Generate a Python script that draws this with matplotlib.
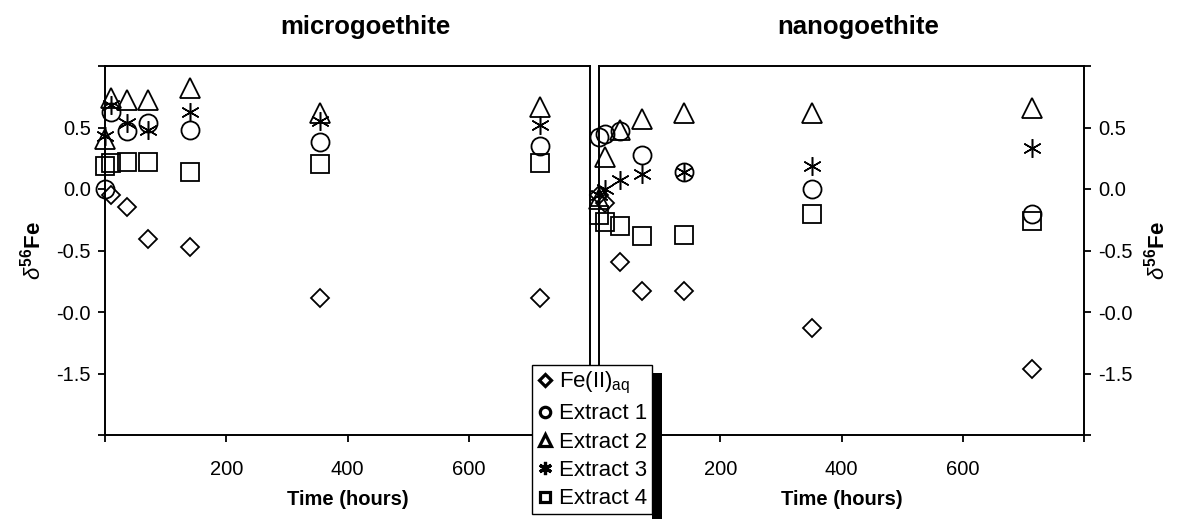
import matplotlib
matplotlib.use("Agg")
import matplotlib.pyplot as plt
from matplotlib.lines import Line2D
from matplotlib.patches import Rectangle
import numpy as np

plt.rcParams['font.family'] = ['Liberation Sans', 'DejaVu Sans']
plt.rcParams['mathtext.fontset'] = 'custom'
plt.rcParams['mathtext.rm'] = 'Liberation Sans'
plt.rcParams['mathtext.it'] = 'Liberation Sans:italic'
plt.rcParams['mathtext.bf'] = 'Liberation Sans:bold'

# ---- data: microgoethite ----
micro_time = [0, 10, 36, 71, 141, 354, 717]
micro_fe = [np.nan, -0.05, -0.15, -0.41, -0.47, -0.89, -0.89]
micro_ext1 = [0.0, 0.63, 0.47, 0.54, 0.48, 0.38, 0.35]
micro_ext2 = [0.41, 0.74, 0.72, 0.72, 0.82, 0.62, 0.67]
micro_ext3 = [0.43, 0.68, 0.54, 0.48, 0.63, 0.55, 0.52]
micro_ext4 = [0.19, 0.21, 0.22, 0.22, 0.14, 0.20, 0.21]

# ---- data: nanogoethite ----
nano_time = [0, 10, 35, 71, 141, 352, 715]
nano_fe = [-0.05, -0.11, -0.59, -0.83, -0.83, -1.13, -1.46]
nano_ext1 = [0.42, 0.45, 0.47, 0.28, 0.14, 0.0, -0.20]
nano_ext2 = [-0.08, 0.26, 0.48, 0.57, 0.62, 0.62, 0.66]
nano_ext3 = [-0.05, 0.0, 0.07, 0.12, 0.14, 0.19, 0.33]
nano_ext4 = [-0.21, -0.27, -0.30, -0.38, -0.37, -0.20, -0.26]

series_labels = [r'Fe(II)$_{\mathrm{aq}}$', 'Extract 1', 'Extract 2', 'Extract 3', 'Extract 4']
x_ticks = [0, 200, 400, 600, 800]
x_ticklabels = ['', '200', '400', '600', '']
y_ticks = [1.0, 0.5, 0.0, -0.5, -1.0, -1.5, -2.0]
y_ticklabels = ['', '0.5', '0.0', '-0.5', '-0.0', '-1.5', '']
titles = ['microgoethite', 'nanogoethite']

markers = ['D', 'o', '^', (6, 2, 0), 's']
msizes = [9, 13, 14, 13.5, 12.5]
mews = [1.3, 1.3, 1.3, 1.1, 1.3]

W, H = 1179, 519
fig = plt.figure(figsize=(W / 100, H / 100), dpi=100)

ax_l = fig.add_axes([105 / W, (H - 435) / H, 485 / W, 369 / H])
ax_r = fig.add_axes([599 / W, (H - 435) / H, 485 / W, 369 / H])

def draw(ax, t, ys):
    for y, m, ms, mew in zip(ys, markers, msizes, mews):
        ax.plot(t, y, linestyle='none', marker=m, markersize=ms,
                markerfacecolor='none', markeredgecolor='black',
                markeredgewidth=mew, color='black', clip_on=False)
    ax.set_xlim(0, 800)
    ax.set_ylim(-2.0, 1.0)
    ax.set_xticks(x_ticks)
    ax.set_xticklabels(x_ticklabels)
    ax.set_yticks(y_ticks)
    ax.set_yticklabels(y_ticklabels)
    for s in ax.spines.values():
        s.set_linewidth(1.4)
    ax.tick_params(direction='out', length=5, width=1.3, labelsize=14.5)
    ax.tick_params(axis='x', pad=13)
    ax.tick_params(axis='y', pad=5)
    ax.set_xlabel('Time (hours)', fontsize=14.5, fontweight='bold', labelpad=8)

draw(ax_l, micro_time, [micro_fe, micro_ext1, micro_ext2, micro_ext3, micro_ext4])
draw(ax_r, nano_time, [nano_fe, nano_ext1, nano_ext2, nano_ext3, nano_ext4])

ylab = r'$\delta^{\mathbf{56}}\mathbf{Fe}$'
ax_l.set_ylabel(ylab, fontsize=16, labelpad=8)
ax_r.yaxis.tick_right()
ax_r.yaxis.set_label_position('right')
ax_r.set_ylabel(ylab, fontsize=16, labelpad=8)

fig.text(365 / W, 1 - 27 / H, titles[0], ha='center', va='center',
         fontsize=18.5, fontweight='bold')
fig.text(858 / W, 1 - 27 / H, titles[1], ha='center', va='center',
         fontsize=18.5, fontweight='bold')

# legend
handles = []
leg_ms = [6.5, 7.5, 8, 9.5, 7.5]
for m, ms in zip(markers, leg_ms):
    handles.append(Line2D([], [], linestyle='none', marker=m, markersize=ms,
                          markerfacecolor='none', markeredgecolor='black',
                          markeredgewidth=2.3))
leg = fig.legend(handles, series_labels, loc='upper left',
                 bbox_to_anchor=(532 / W, 1 - 365 / H),
                 bbox_transform=fig.transFigure, borderaxespad=0,
                 frameon=True, fancybox=False, framealpha=1,
                 edgecolor='black', fontsize=16, handlelength=0.7,
                 handletextpad=0.3, labelspacing=0.33, borderpad=0.22)
leg.get_frame().set_linewidth(1.0)
leg.set_zorder(10)

# legend shadow (placed from the rendered legend box)
fig.canvas.draw()
bb = leg.get_window_extent()
shadow = Rectangle((bb.x1 / W, 0), 10 / W, (bb.y1 - 8) / H,
                   transform=fig.transFigure, facecolor='black',
                   edgecolor='none', zorder=9)
fig.patches.append(shadow)

fig.savefig('out.png', dpi=100)
